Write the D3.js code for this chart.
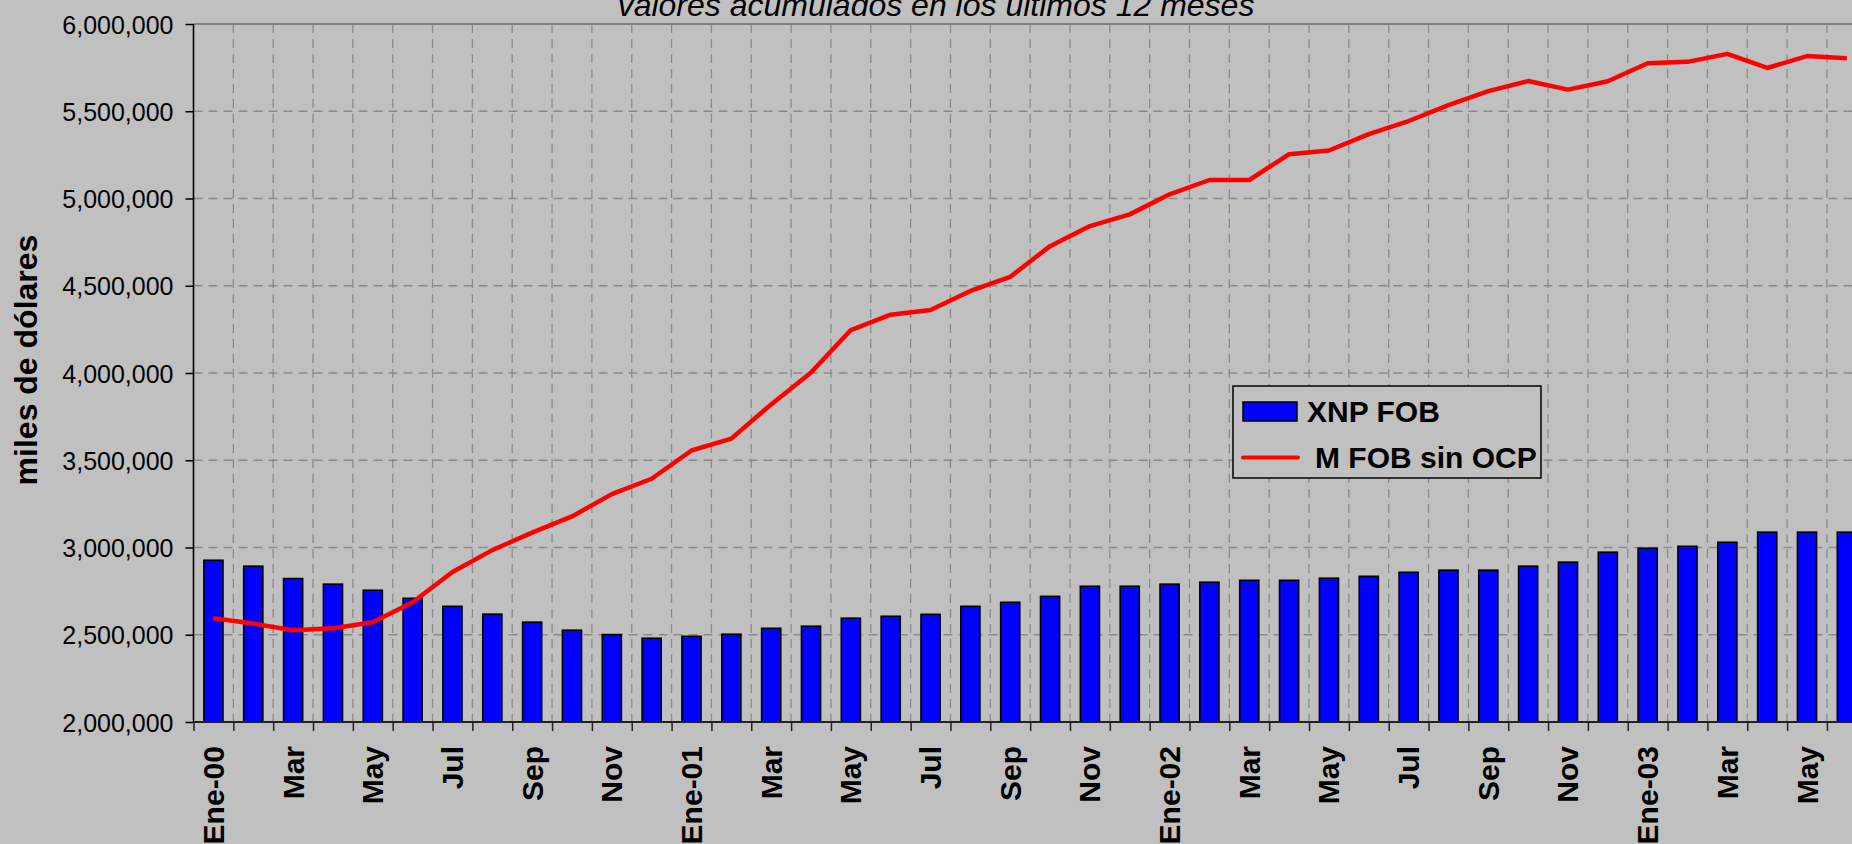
<!DOCTYPE html>
<html>
<head>
<meta charset="utf-8">
<script src="https://cdn.jsdelivr.net/npm/d3@7"></script>
<style>
  body { margin: 0; background: #c0c0c0; }
  svg { display: block; font-family: Arial, 'Liberation Sans', sans-serif; }
</style>
</head>
<body>
<div class="chart"></div>
<script>
// DATA
// ----------------------------
const meses = [
  'Ene-00', 'Feb-00', 'Mar-00', 'Abr-00', 'May-00', 'Jun-00', 'Jul-00', 'Ago-00', 'Sep-00', 'Oct-00', 'Nov-00', 'Dic-00',
  'Ene-01', 'Feb-01', 'Mar-01', 'Abr-01', 'May-01', 'Jun-01', 'Jul-01', 'Ago-01', 'Sep-01', 'Oct-01', 'Nov-01', 'Dic-01',
  'Ene-02', 'Feb-02', 'Mar-02', 'Abr-02', 'May-02', 'Jun-02', 'Jul-02', 'Ago-02', 'Sep-02', 'Oct-02', 'Nov-02', 'Dic-02',
  'Ene-03', 'Feb-03', 'Mar-03', 'Abr-03', 'May-03', 'Jun-03'
]

// XNP FOB (miles de dolares)
const xnpFob = [
  2927000, 2893000, 2822000, 2790000, 2755000, 2709000, 2663000, 2618000, 2572000, 2526000, 2501000, 2480000,
  2491000, 2503000, 2537000, 2549000, 2595000, 2606000, 2617000, 2663000, 2686000, 2720000, 2778000, 2778000,
  2790000, 2801000, 2812000, 2812000, 2824000, 2835000, 2858000, 2870000, 2870000, 2893000, 2916000, 2973000,
  2996000, 3007000, 3030000, 3088000, 3088000, 3088000
]

// M FOB sin OCP (miles de dolares)
const mFobSinOcp = [
  2595000, 2564000, 2526000, 2537000, 2572000, 2686000, 2860000, 2985000, 3085000, 3178000, 3306000, 3394000,
  3556000, 3624000, 3820000, 4003000, 4246000, 4334000, 4361000, 4470000, 4551000, 4727000, 4842000, 4909000,
  5024000, 5106000, 5106000, 5254000, 5275000, 5369000, 5444000, 5535000, 5615000, 5673000, 5624000, 5672000,
  5775000, 5783000, 5829000, 5748000, 5816000, 5804000
]

const yTicks = [2000000, 2500000, 3000000, 3500000, 4000000, 4500000, 5000000, 5500000, 6000000]
const seriesNames = ['XNP FOB', 'M FOB sin OCP']
const titulo = 'valores acumulados en los últimos 12 meses'
const yTitulo = 'miles de dólares'

// SETUP
// ----------------------------
const fullWidth = 1852
const fullHeight = 844
const margin = { top: 24, left: 193.5, bottom: 122 }
const step = 39.84
const height = fullHeight - margin.top - margin.bottom

const svg = d3.select('.chart')
  .append('svg')
    .attr('width', fullWidth)
    .attr('height', fullHeight)

svg.append('rect')
  .attr('width', fullWidth)
  .attr('height', fullHeight)
  .style('fill', '#c0c0c0')

const g = svg.append('g')
  .attr('transform', `translate(${margin.left}, ${margin.top})`)

// SCALES
// ----------------------------
const xScale = d3.scaleBand()
  .domain(meses)
  .range([0, step * meses.length])

// boundaries between categories (ticks + vertical grid)
const xEdge = d3.scaleLinear()
  .domain([0, meses.length])
  .range([0, step * meses.length])

const yScale = d3.scaleLinear()
  .domain([2000000, 6000000])
  .range([height, 0])

// GRID
// ----------------------------
const dash = '9,6'
g.selectAll('.hgrid')
  .data(yTicks.slice(1, -1))
  .enter()
  .append('line')
    .attr('class', 'hgrid')
    .attr('x1', 0)
    .attr('x2', fullWidth)
    .attr('y1', d => yScale(d))
    .attr('y2', d => yScale(d))
    .style('stroke', '#8a8a8a')
    .style('stroke-width', 1.3)
    .style('stroke-dasharray', dash)

g.selectAll('.vgrid')
  .data(d3.range(1, meses.length + 1))
  .enter()
  .append('line')
    .attr('class', 'vgrid')
    .attr('x1', d => xEdge(d))
    .attr('x2', d => xEdge(d))
    .attr('y1', 0)
    .attr('y2', height)
    .style('stroke', '#8a8a8a')
    .style('stroke-width', 1.3)
    .style('stroke-dasharray', dash)

// top border of the plot area
g.append('line')
  .attr('x1', 0)
  .attr('x2', fullWidth)
  .attr('y1', 0)
  .attr('y2', 0)
  .style('stroke', '#808080')
  .style('stroke-width', 2)

// BARS
// ----------------------------
const barWidth = xScale.bandwidth() * 0.48
g.selectAll('.bar')
  .data(xnpFob)
  .enter()
  .append('rect')
    .attr('class', 'bar')
    .attr('x', (d, i) => xScale(meses[i]) + (xScale.bandwidth() - barWidth) / 2)
    .attr('y', d => yScale(d))
    .attr('width', barWidth)
    .attr('height', d => height - yScale(d))
    .style('fill', '#0000ff')
    .style('stroke', '#000')
    .style('stroke-width', 1.6)

// LINE
// ----------------------------
const line = d3.line()
  .x((d, i) => xScale(meses[i]) + xScale.bandwidth() / 2)
  .y(d => yScale(d))

g.append('path')
  .datum(mFobSinOcp)
  .attr('d', line)
  .style('fill', 'none')
  .style('stroke', '#ff0000')
  .style('stroke-width', 4.5)
  .style('stroke-linejoin', 'round')

// AXES
// ----------------------------
const yAxis = d3.axisLeft(yScale)
  .tickValues(yTicks)
  .tickSize(8)
  .tickPadding(12)
  .tickFormat(d3.format(','))

g.append('g')
  .call(yAxis)
  .call(a => a.select('.domain').remove())
  .call(a => a.selectAll('.tick line').style('stroke', '#000').style('stroke-width', 1.5))
  .call(a => a.selectAll('text').style('font-size', '25px').style('fill', '#000').attr('dy', '0.36em'))

g.append('line')
  .attr('x1', 0)
  .attr('x2', 0)
  .attr('y1', 0)
  .attr('y2', height)
  .style('stroke', '#000')
  .style('stroke-width', 1.6)

// boundary ticks
g.append('g')
  .attr('transform', `translate(0, ${height})`)
  .call(d3.axisBottom(xEdge).tickValues(d3.range(0, meses.length + 1)).tickSize(9).tickFormat(''))
  .call(a => a.select('.domain').remove())
  .call(a => a.selectAll('.tick line').style('stroke', '#222').style('stroke-width', 1.5))

g.append('line')
  .attr('x1', 0)
  .attr('x2', fullWidth)
  .attr('y1', height)
  .attr('y2', height)
  .style('stroke', '#222')
  .style('stroke-width', 2)

// month labels every two months
const xAxis = d3.axisBottom(xScale)
  .tickSize(0)
  .tickValues(meses.filter((d, i) => i % 2 === 0))
  .tickFormat(d => d.startsWith('Ene') ? d : d.slice(0, 3))

g.append('g')
  .attr('transform', `translate(0, ${height})`)
  .call(xAxis)
  .call(a => a.select('.domain').remove())
  .selectAll('text')
    .attr('transform', 'rotate(-90)')
    .attr('x', -24)
    .attr('y', 0)
    .attr('dy', '0.35em')
    .style('text-anchor', 'end')
    .style('font-size', '30px')
    .style('font-weight', 'bold')
    .style('fill', '#000')

// TITLES
// ----------------------------
svg.append('text')
  .attr('x', 936)
  .attr('y', 16)
  .style('text-anchor', 'middle')
  .style('font-size', '32px')
  .style('font-style', 'italic')
  .style('fill', '#000')
  .text(titulo)

svg.append('text')
  .attr('transform', 'translate(37, 360) rotate(-90)')
  .style('text-anchor', 'middle')
  .style('font-size', '32px')
  .style('font-weight', 'bold')
  .style('fill', '#000')
  .text(yTitulo)

// LEGEND
// ----------------------------
const legend = svg.append('g')
  .attr('transform', 'translate(1233, 386)')

legend.append('rect')
  .attr('width', 308)
  .attr('height', 92)
  .style('fill', '#c0c0c0')
  .style('stroke', '#000')
  .style('stroke-width', 1.5)

legend.append('rect')
  .attr('x', 10)
  .attr('y', 16)
  .attr('width', 54)
  .attr('height', 19)
  .style('fill', '#0000ff')
  .style('stroke', '#000')
  .style('stroke-width', 1.5)

legend.append('line')
  .attr('x1', 10)
  .attr('x2', 65)
  .attr('y1', 71.5)
  .attr('y2', 71.5)
  .style('stroke', '#ff0000')
  .style('stroke-width', 4)
  .style('stroke-linecap', 'round')

legend.selectAll('.label')
  .data(seriesNames)
  .enter()
  .append('text')
    .attr('class', 'label')
    .attr('x', (d, i) => i === 0 ? 74 : 82)
    .attr('y', (d, i) => i === 0 ? 36 : 82)
    .style('font-size', '30px')
    .style('font-weight', 'bold')
    .style('fill', '#000')
    .text(d => d)
</script>
</body>
</html>
